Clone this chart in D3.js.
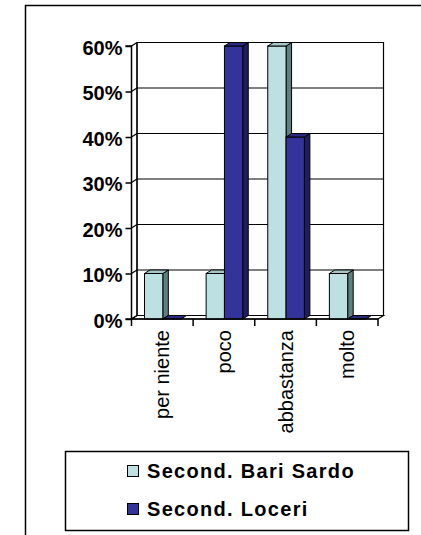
<!DOCTYPE html>
<html><head><meta charset="utf-8">
<script src="https://cdn.jsdelivr.net/npm/d3@7"></script>
<style>body{margin:0;background:#fff}svg{display:block}text{font-family:"Liberation Sans",Arial,sans-serif}</style>
</head><body><svg id="c" width="421" height="535"></svg>
<script>
const categories = ["per niente","poco","abbastanza","molto"];
const seriesNames = ["Second. Bari Sardo","Second. Loceri"];
const bariSardo = [0.10,0.10,0.60,0.10];
const loceri = [0.00,0.60,0.40,0.00];
const yTicks = [0,0.1,0.2,0.3,0.4,0.5,0.6];

const colors = [
  {front:"#BDE1E3", side:"#5F7F80", top:"#A6C6C8"},
  {front:"#333399", side:"#1E1E5A", top:"#2A2A80"}
];
const svg = d3.select("#c");
const dx = 5.5, dy = -3.5;
const y = d3.scaleLinear().domain([0,0.6]).range([319,46]);
const x0 = d3.scaleBand().domain(categories).range([131.5,378]).padding(0);
const x1 = d3.scaleBand().domain(seriesNames).range([13, x0.bandwidth()-12]).padding(0);
const seriesVals = [bariSardo, loceri];

// outer border
svg.append("rect").attr("x",25.5).attr("y",5.5).attr("width",420).attr("height",560)
  .attr("fill","none").attr("stroke","#000").attr("stroke-width",1.5);

const L = x0.range()[0], R = x0.range()[1];
// back wall
svg.append("polygon").attr("points",[[L+dx,y(0)+dy],[R+dx,y(0)+dy],[R+dx,y(0.6)+dy],[L+dx,y(0.6)+dy]].map(p=>p.join(",")).join(" "))
  .attr("fill","#fff").attr("stroke","#000").attr("stroke-width",1.2);
// floor
svg.append("polygon").attr("points",[[L,y(0)],[R,y(0)],[R+dx,y(0)+dy],[L+dx,y(0)+dy]].map(p=>p.join(",")).join(" "))
  .attr("fill","#fff").attr("stroke","#000").attr("stroke-width",1.2);
// gridlines
yTicks.forEach(t=>{
  svg.append("line").attr("x1",L+dx).attr("x2",R+dx).attr("y1",y(t)+dy).attr("y2",y(t)+dy).attr("stroke","#000").attr("stroke-width",1.2);
  svg.append("line").attr("x1",L).attr("x2",L+dx).attr("y1",y(t)).attr("y2",y(t)+dy).attr("stroke","#000").attr("stroke-width",1.2);
});
// side wall left edge
svg.append("line").attr("x1",L+dx).attr("x2",L+dx).attr("y1",y(0)+dy).attr("y2",y(0.6)+dy).attr("stroke","#000").attr("stroke-width",1.2);

// y axis
const yAxis = d3.axisLeft(y).tickValues(yTicks).tickFormat(d3.format(".0%")).tickSize(6).tickPadding(3);
const ga = svg.append("g").attr("transform",`translate(${L},0)`).call(yAxis);
ga.select(".domain").attr("stroke","#000").attr("stroke-width",1.5).attr("d",`M-6,${y(0.6)}H0V${y(0)}H-6`);
ga.selectAll(".tick line").attr("stroke","#000").attr("stroke-width",1.5);
ga.selectAll(".tick text").attr("font-size",20).attr("font-weight","bold").attr("fill","#000").attr("dy","0.4em")
  .style("font-family","'Liberation Sans',Arial,sans-serif");

// bars
categories.forEach((c,i)=>{
  seriesNames.forEach((s,j)=>{
    const v = seriesVals[j][i];
    const bx = x0(c)+x1(s), bw = x1.bandwidth();
    const yt = y(v), yb = y(0);
    const col = colors[j];
    const g = svg.append("g");
    if (v>0){
      g.append("polygon").attr("points",[[bx+bw,yb],[bx+bw+dx,yb+dy],[bx+bw+dx,yt+dy],[bx+bw,yt]].map(p=>p.join(",")).join(" "))
        .attr("fill",col.side).attr("stroke","#000").attr("stroke-width",1);
      g.append("rect").attr("x",bx).attr("y",yt).attr("width",bw).attr("height",yb-yt)
        .attr("fill",col.front).attr("stroke","#000").attr("stroke-width",1);
    }
    g.append("polygon").attr("points",[[bx,yt],[bx+bw,yt],[bx+bw+dx,yt+dy],[bx+dx,yt+dy]].map(p=>p.join(",")).join(" "))
      .attr("fill",col.top).attr("stroke","#000").attr("stroke-width",1);
  });
});

// x axis
const xAxis = d3.axisBottom(x0).tickSize(0).tickFormat("");
const gx = svg.append("g").attr("transform",`translate(0,${y(0)})`).call(xAxis);
gx.select(".domain").attr("stroke","#000").attr("stroke-width",1.5).attr("d",`M${L},0H${R}`);
const bounds = categories.map(c=>x0(c)).concat([R]);
bounds.forEach(b=>{
  gx.append("line").attr("x1",b).attr("x2",b).attr("y1",0).attr("y2",7).attr("stroke","#000").attr("stroke-width",1.5);
});
categories.forEach(c=>{
  const cx = x0(c)+x0.bandwidth()/2;
  svg.append("text").attr("transform",`translate(${cx},330) rotate(-90)`)
    .attr("text-anchor","end").attr("dy","0.35em").attr("font-size",20).attr("fill","#000").text(c);
});

// legend
svg.append("rect").attr("x",65.5).attr("y",451.5).attr("width",343).attr("height",79)
  .attr("fill","#fff").attr("stroke","#000").attr("stroke-width",1.5);
seriesNames.forEach((s,j)=>{
  const ly = [471,509][j];
  svg.append("rect").attr("x",127.5).attr("y",ly-5.5).attr("width",11).attr("height",11)
    .attr("fill",colors[j].front).attr("stroke","#000").attr("stroke-width",1);
  svg.append("text").attr("x",147).attr("y",ly+7).attr("font-size",20).attr("font-weight","bold")
    .attr("letter-spacing","1.3px").attr("fill","#000").text(s);
});
</script></body></html>
